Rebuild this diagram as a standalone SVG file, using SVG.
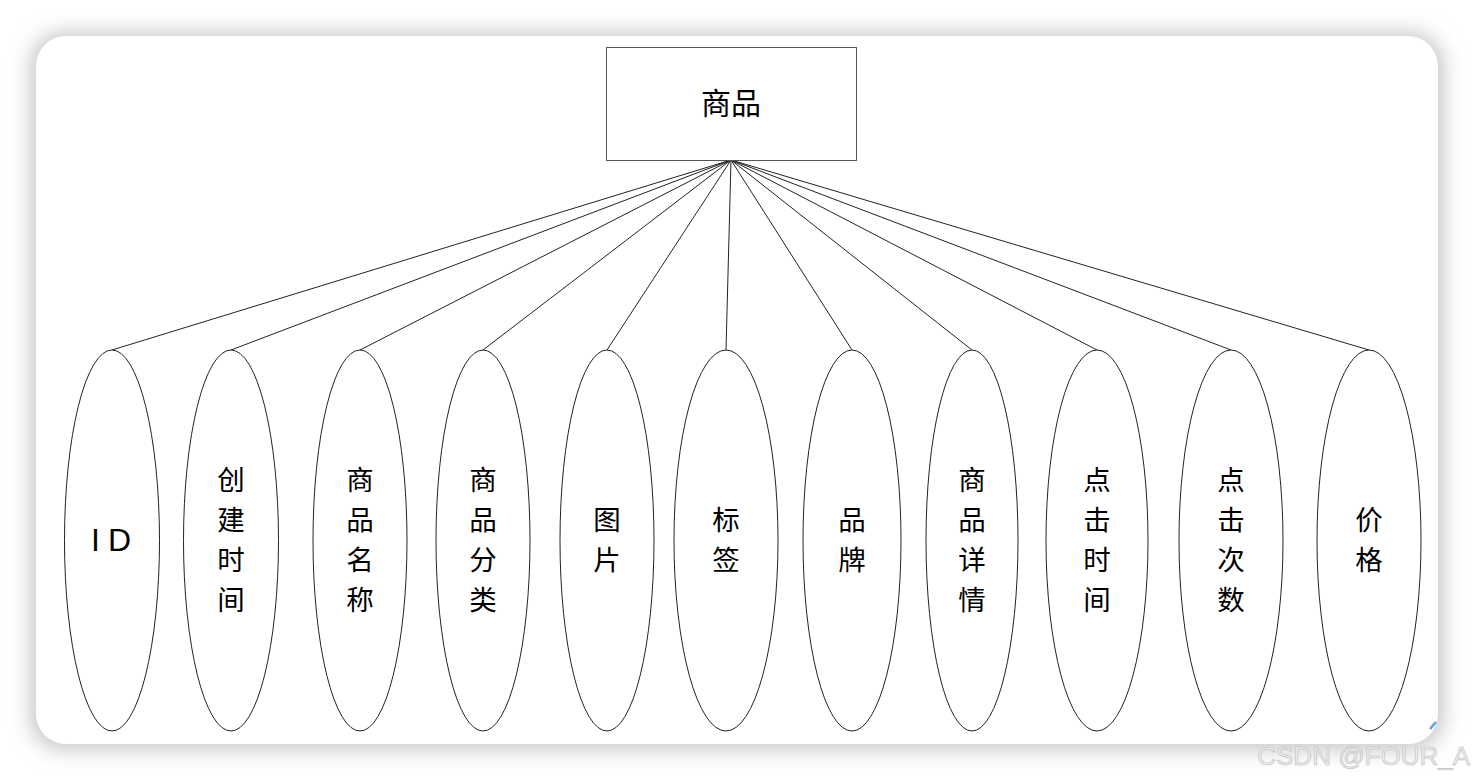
<svg xmlns="http://www.w3.org/2000/svg" width="1474" height="780" viewBox="0 0 1474 780">
<defs>
<filter id="sh" x="-5%" y="-5%" width="110%" height="115%">
<feGaussianBlur stdDeviation="10"/>
</filter>
<style>
.e{fill:#fff;stroke:#222;stroke-width:1}
.t{font-family:"Noto Sans CJK SC","Noto Sans",sans-serif;font-size:27.5px;fill:#000;text-anchor:middle}
.h{font-family:"Noto Sans CJK SC","Noto Sans",sans-serif;font-size:30px;fill:#000;text-anchor:middle}
#connectors line{stroke:#222;stroke-width:1}
</style>
</defs>
<rect width="1474" height="780" fill="#fff"/>
<rect x="30" y="32" width="1414" height="718" rx="34" fill="#c8c8c8" filter="url(#sh)"/>
<rect x="36" y="36" width="1402" height="708" rx="30" fill="#fff"/>
<g id="connectors">
<line x1="731" y1="160" x2="112" y2="350"/>
<line x1="731" y1="160" x2="231" y2="350"/>
<line x1="731" y1="160" x2="360" y2="350"/>
<line x1="731" y1="160" x2="483" y2="350"/>
<line x1="731" y1="160" x2="607" y2="350"/>
<line x1="731" y1="160" x2="726" y2="350"/>
<line x1="731" y1="160" x2="852" y2="350"/>
<line x1="731" y1="160" x2="972" y2="350"/>
<line x1="731" y1="160" x2="1097" y2="350"/>
<line x1="731" y1="160" x2="1231" y2="350"/>
<line x1="731" y1="160" x2="1369" y2="350"/>
</g>
<g id="entity">
<rect x="606.5" y="47.5" width="250" height="113" fill="#fff" stroke="#555" stroke-width="1"/>
<text class="h" x="731" y="114">商品</text>
</g>
<g id="a-id"><ellipse class="e" cx="112" cy="540.5" rx="47.5" ry="190.5"/><text x="115" y="551" font-family="Liberation Sans,Arial,sans-serif" font-size="32" text-anchor="middle" letter-spacing="8">ID</text></g>
<g id="a-create"><ellipse class="e" cx="231" cy="540.5" rx="47.5" ry="190.5"/><text class="t"><tspan x="231" y="490">创</tspan><tspan x="231" y="530">建</tspan><tspan x="231" y="570">时</tspan><tspan x="231" y="610">间</tspan></text></g>
<g id="a-name"><ellipse class="e" cx="360" cy="540.5" rx="47" ry="190.5"/><text class="t"><tspan x="360" y="490">商</tspan><tspan x="360" y="530">品</tspan><tspan x="360" y="570">名</tspan><tspan x="360" y="610">称</tspan></text></g>
<g id="a-cat"><ellipse class="e" cx="483" cy="540.5" rx="47" ry="190.5"/><text class="t"><tspan x="483" y="490">商</tspan><tspan x="483" y="530">品</tspan><tspan x="483" y="570">分</tspan><tspan x="483" y="610">类</tspan></text></g>
<g id="a-img"><ellipse class="e" cx="607" cy="540.5" rx="47" ry="190.5"/><text class="t"><tspan x="607" y="530">图</tspan><tspan x="607" y="570">片</tspan></text></g>
<g id="a-tag"><ellipse class="e" cx="726" cy="540.5" rx="52" ry="190.5"/><text class="t"><tspan x="726" y="530">标</tspan><tspan x="726" y="570">签</tspan></text></g>
<g id="a-brand"><ellipse class="e" cx="852" cy="540.5" rx="49" ry="190.5"/><text class="t"><tspan x="852" y="530">品</tspan><tspan x="852" y="570">牌</tspan></text></g>
<g id="a-detail"><ellipse class="e" cx="972" cy="540.5" rx="46" ry="190.5"/><text class="t"><tspan x="972" y="490">商</tspan><tspan x="972" y="530">品</tspan><tspan x="972" y="570">详</tspan><tspan x="972" y="610">情</tspan></text></g>
<g id="a-clicktime"><ellipse class="e" cx="1097" cy="540.5" rx="51" ry="190.5"/><text class="t"><tspan x="1097" y="490">点</tspan><tspan x="1097" y="530">击</tspan><tspan x="1097" y="570">时</tspan><tspan x="1097" y="610">间</tspan></text></g>
<g id="a-clicks"><ellipse class="e" cx="1231" cy="540.5" rx="52" ry="190.5"/><text class="t"><tspan x="1231" y="490">点</tspan><tspan x="1231" y="530">击</tspan><tspan x="1231" y="570">次</tspan><tspan x="1231" y="610">数</tspan></text></g>
<g id="a-price"><ellipse class="e" cx="1369" cy="540.5" rx="52" ry="190.5"/><text class="t"><tspan x="1369" y="530">价</tspan><tspan x="1369" y="570">格</tspan></text></g>
<line x1="1430" y1="729" x2="1436" y2="722" stroke="#5b9bef" stroke-width="2.5"/>
<text x="1470" y="765" text-anchor="end" font-family="Liberation Sans,Arial,sans-serif" font-size="26" fill="#ececec" stroke="#bcbcbc" stroke-width="0.6">CSDN @FOUR_A</text>
</svg>
